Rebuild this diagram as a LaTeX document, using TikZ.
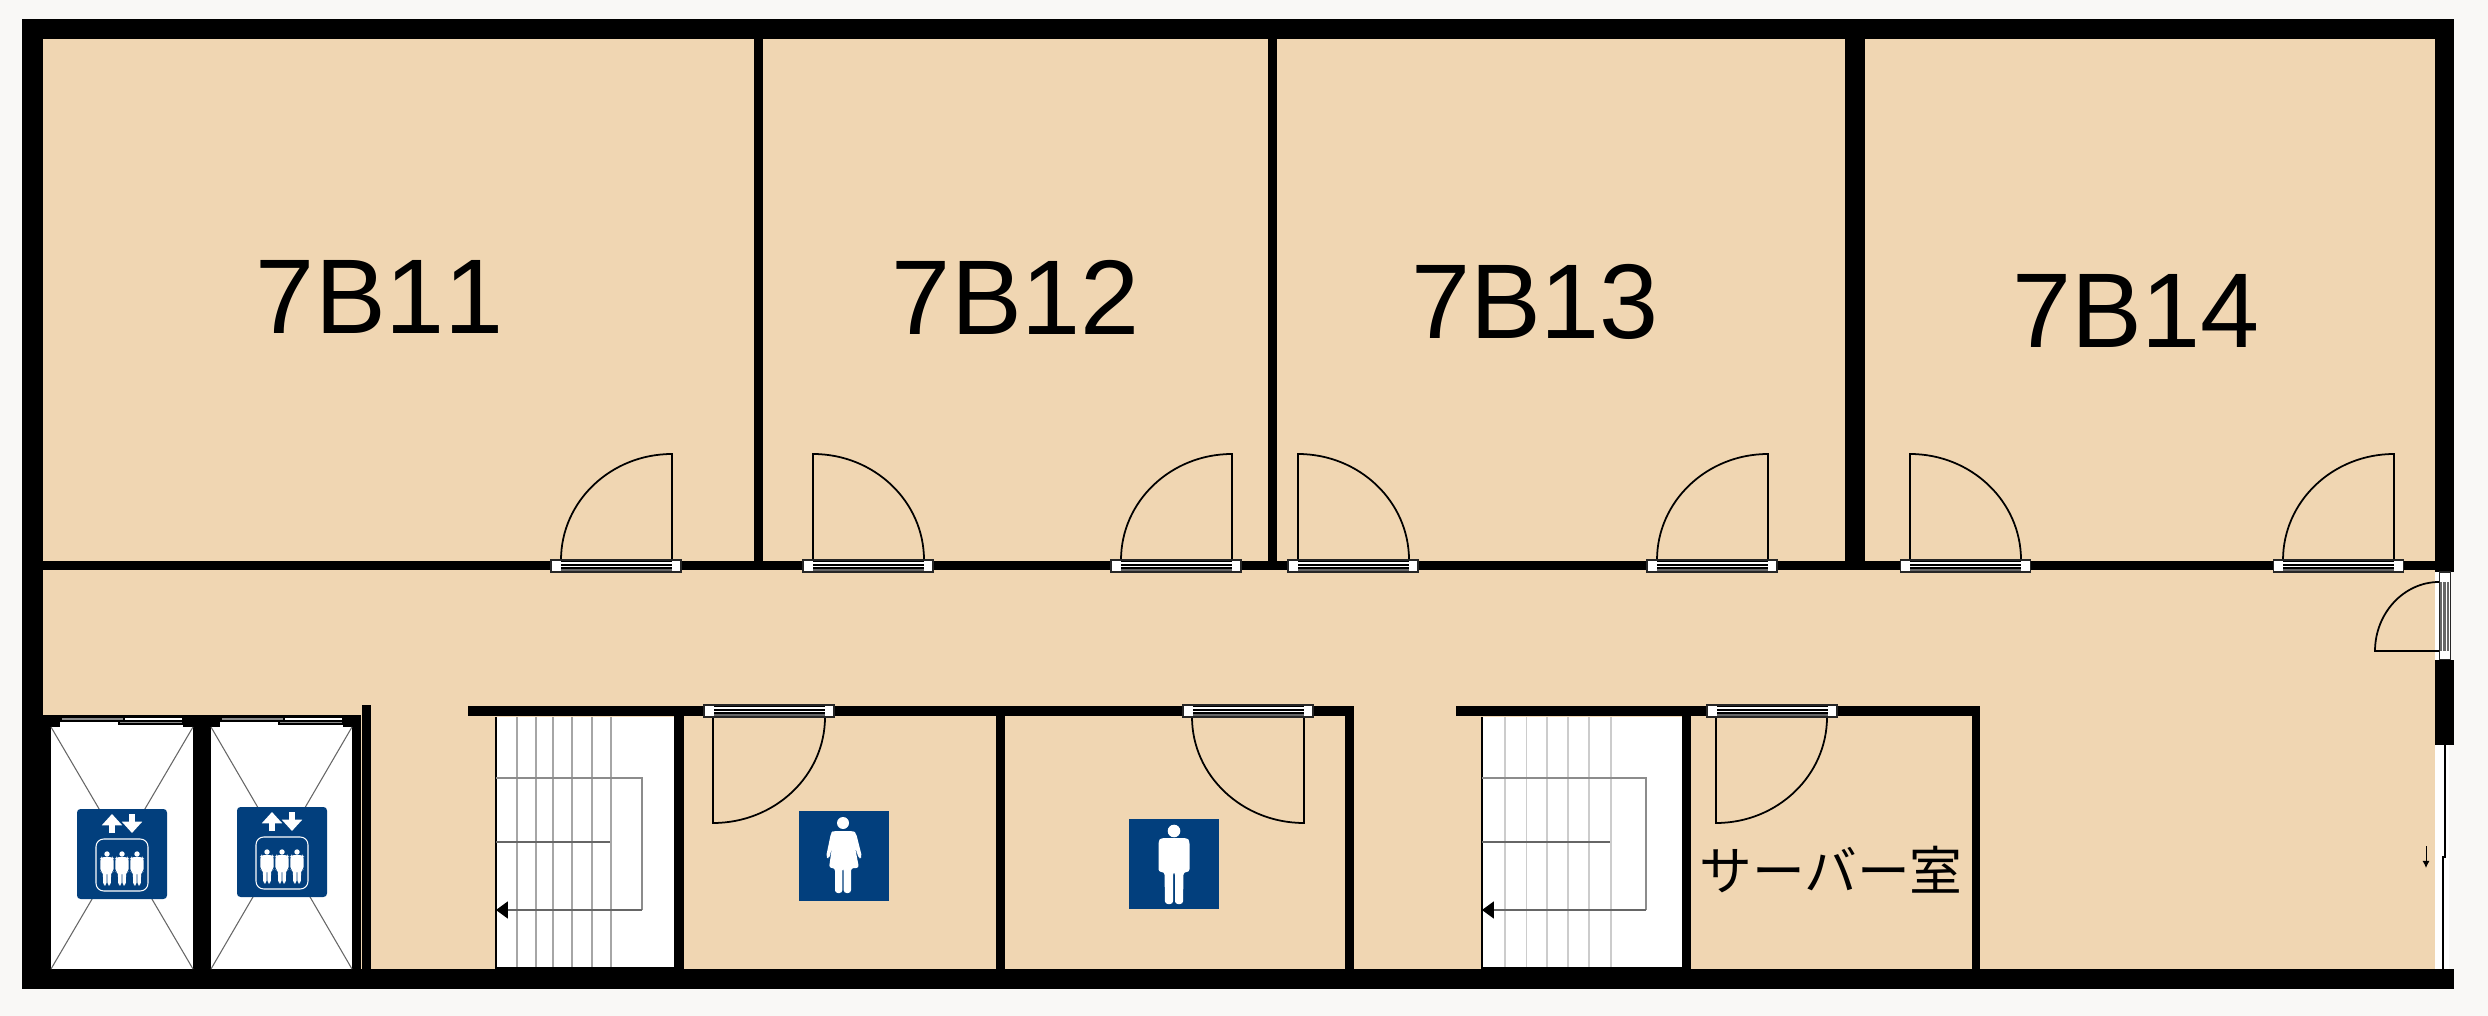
\documentclass[tikz,border=0pt]{standalone}
\usepackage{fontspec}
\setmainfont[Kerning=Off]{Liberation Sans}
\newfontfamily\cjk{Noto Sans CJK JP}
\usetikzlibrary{arrows.meta,calc}
\definecolor{floortan}{RGB}{240,214,178}
\definecolor{paper}{RGB}{249,248,246}
\definecolor{signblue}{RGB}{2,63,125}
\tikzset{
  wall/.style={fill=black},
  leaf/.style={draw=black,line width=.5pt,line join=miter},
  thinline/.style={draw=black!60,line width=.3pt},
  roomlabel/.style={font=\fontsize{30.2}{32}\selectfont,inner sep=0pt},
}
\newcommand{\DoorBand}[3]{%
  \fill[white,draw=black!85,line width=.3pt] (#1,#3) rectangle ({#1+#2},{#3+12});
  \fill[black] ({#1+9.5},{#3+1}) rectangle ({#1+#2-9.5},{#3+11});
  \fill[white] ({#1+9.5},{#3+2.3}) rectangle ({#1+#2-9.5},{#3+3.6});
  \fill[white] ({#1+9.5},{#3+6}) rectangle ({#1+#2-9.5},{#3+7.3});
  \fill[black!60] ({#1+9.5},{#3+9.2}) rectangle ({#1+#2-9.5},{#3+11});
}
\newcommand{\DoorLeaf}[4]{%
  \pgfmathsetmacro{\ctrlx}{#1+0.5523*(#2-#1)}
  \pgfmathsetmacro{\ctrly}{#3+0.5523*(#4-#3)}
  \draw[leaf] (#1,#3) -- (#1,#4) .. controls (\ctrlx,#4) and (#2,\ctrly) .. (#2,#3);
}
\newcommand{\ManFig}[3]{%
  \begin{scope}[shift={(#1,#2)},scale=#3]
    \fill[white] (0,0) circle[radius=6.3];
    \fill[white,rounded corners=.8] (-13,7) -- (13,7) -- (15.5,10) -- (15.5,41) -- (9.5,41) -- (9,73) -- (1,73) -- (1,41) -- (-1,41) -- (-1,73) -- (-9,73) -- (-9.5,41) -- (-15.5,41) -- (-15.5,10) -- cycle;
  \end{scope}
}
\newcommand{\LiftSign}[2]{%
  \begin{scope}[shift={(#1,#2)}]
    \fill[signblue,rounded corners=1pt] (0,0) rectangle (90,90);
    \draw[white,line width=.3pt,rounded corners=2.2pt] (19,30) rectangle (71,82);
    \foreach \mx in {30,45,60} {\ManFig{\mx}{45}{.43}}
    \draw[white,line width=1.5pt,-{Triangle[width=5.6pt,length=3.2pt]}] (35,24) -- (35,5);
    \draw[white,line width=1.5pt,-{Triangle[width=5.6pt,length=3.2pt]}] (55,5) -- (55,24);
  \end{scope}
}
\newcommand{\StairFlight}[6]{%
  \fill[white] (#1,717) rectangle (#2,967);
  \draw[black,line width=.4pt] (#1,717) -- (#1,968) -- (#2,968);
  \foreach \tread in {#3} {\draw[draw=black!#6,line width=.3pt] (\tread,717) -- (\tread,967);}
  \draw[draw=black!45,line width=.5pt] (#1,778) -- (#4,778) -- (#4,910);
  \draw[thinline,-{Triangle[length=3.4pt,width=4.9pt,black]}] (#4,910) -- (#1,910);
  \draw[draw=black!60,line width=.6pt] (#1,842) -- (#5,842);
}
\begin{document}
\begin{tikzpicture}[x=.01cm,y=-.01cm]
\useasboundingbox (0,0) rectangle (2488,1016);
\fill[paper] (0,0) rectangle (2488,1016);
\fill[wall] (22,19) rectangle (2454,989);
\fill[floortan] (43,39) rectangle (2435,969);
\fill[wall] (754,39) rectangle (763,561);
\fill[wall] (1268,39) rectangle (1277,561);
\fill[wall] (1845,39) rectangle (1865,561);
\fill[wall] (43,561) rectangle (2435,570);
\fill[wall] (468,706) rectangle (1354,716);
\fill[wall] (1456,706) rectangle (1980,716);
\fill[wall] (996,716) rectangle (1005,969);
\fill[wall] (1345,716) rectangle (1354,969);
\fill[wall] (674,716) rectangle (684,969);
\fill[wall] (1682,716) rectangle (1691,969);
\fill[wall] (1972,716) rectangle (1980,969);
\fill[wall] (43,715) rectangle (361,969);
\fill[wall] (362,705) rectangle (371,969);
\StairFlight{496}{674}{517,536,553,572,592,611}{642}{610}{35}
\StairFlight{1482}{1682}{1505,1526.5,1547,1568,1589,1611}{1646}{1610}{20}
\foreach \ex/\ew in {51/142,211/141} {
  \fill[white] (\ex,727) rectangle ({\ex+\ew},969);
  \draw[thinline] (\ex,727) -- ({\ex+\ew},969);
  \draw[thinline] ({\ex+\ew},727) -- (\ex,969);
}
\foreach \ed in {60,220} {
  \fill[white] (\ed,721) rectangle ({\ed+123},727);
  \fill[white,draw=black,line width=.3pt] ({\ed+64},717) rectangle ({\ed+123},721);
  \fill[black!45,draw=black,line width=.3pt] ({\ed+1},717) rectangle ({\ed+64},721);
  \fill[black!45,draw=black,line width=.3pt] ({\ed+59},721.5) rectangle ({\ed+123},724);
}
\LiftSign{77}{809}
\LiftSign{237}{807}
\fill[signblue] (799,811) rectangle (889,901);
\fill[white] (843,823) circle[radius=6];
\fill[white,rounded corners=.8] (833,831) -- (853,831) -- (856,833) -- (862,857) -- (859,859) -- (855,847) -- (859,868) -- (851,868) -- (851,893) -- (843.7,893) -- (843.7,868) -- (842.3,868) -- (842.3,893) -- (835,893) -- (835,868) -- (829,868) -- (832,847) -- (829,859) -- (826,857) -- (831,833) -- cycle;
\fill[signblue] (1129,819) rectangle (1219,909);
\ManFig{1174}{831}{1}
\foreach \da/\dh/\df in {551/672/561,803/813/924,1111/1232/1121,1288/1298/1409,1647/1768/1657,1900/1910/2021,2273/2394/2283} {
  \DoorLeaf{\dh}{\df}{560}{454}
  \DoorBand{\da}{130}{560}
}
\foreach \da/\dh/\df in {704/713/825,1183/1304/1192,1707/1716/1827} {
  \DoorLeaf{\dh}{\df}{717}{823}
  \DoorBand{\da}{130}{705}
}
\fill[white] (2435,572) rectangle (2450,660);
\fill[paper] (2450,572) rectangle (2454,660);
\fill[white,draw=black!85,line width=.3pt] (2439,572) rectangle (2450,660);
\fill[black!60] (2440,582) rectangle (2449,651);
\foreach \sx in {2442,2445.5} {\fill[white] (\sx,582) rectangle ({\sx+1},651);}
\draw[leaf] (2439,651) -- (2375,651) .. controls (2375,613) and (2404,582) .. (2439,582);
\fill[wall] (2435,660) rectangle (2454,745);
\fill[white] (2435,745) rectangle (2449,969);
\fill[paper] (2449,745) rectangle (2454,969);
\draw[line width=.6pt] (2445,745) -- (2445,857) -- (2443,857) -- (2443,969);
\coordinate (exitfrom) at (2426,846);
\coordinate (exitto) at (2426,868);
\draw[line width=.3pt,-{Latex[length=2pt,width=2pt]}] (exitfrom) -- (exitto);
\node[roomlabel] (r11) at (380,297) {7B11};
\node[roomlabel] (r12) at (1016,297) {7B12};
\node[roomlabel] (r13) at (1535,302) {7B13};
\node[roomlabel] (r14) at (2136,311) {7B14};
\node[inner sep=0pt,font=\cjk\fontsize{15}{17}\selectfont] (server) at (1831,870) {サーバー室};
\end{tikzpicture}
\end{document}
